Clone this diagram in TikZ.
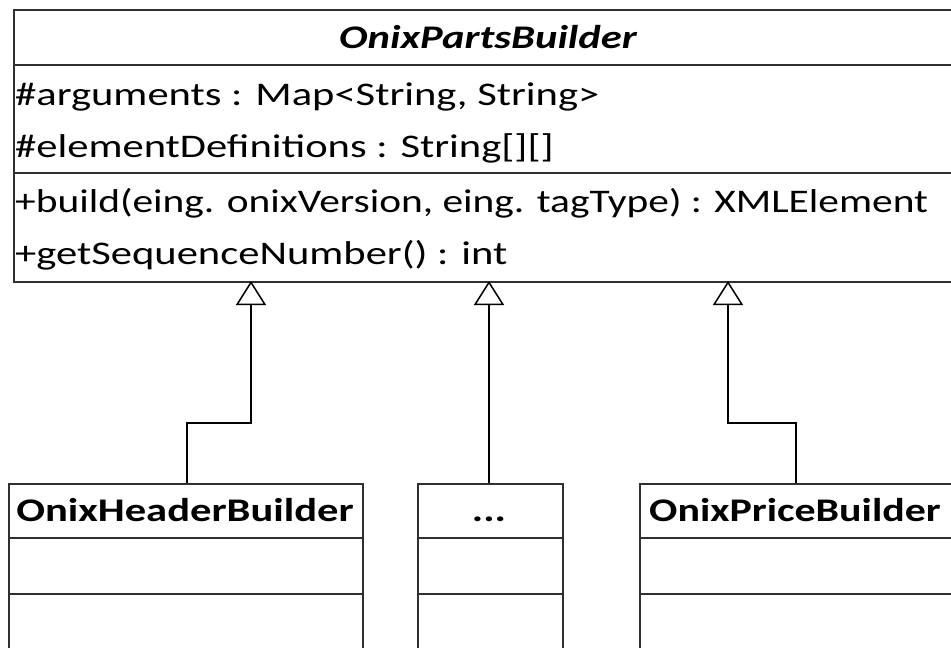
\documentclass[tikz,border=0pt]{standalone}
\usepackage{fontspec}
\setmainfont{Carlito}
\usetikzlibrary{arrows.meta}
\definecolor{boxc}{HTML}{303030}
\def\myhs{1.29}
\begin{document}
\begin{tikzpicture}[x=1pt,y=-1pt,
  box/.style={draw=boxc, line width=1.6pt, rectangle, inner sep=0pt, anchor=north west},
  sep/.style={draw=boxc, line width=1.6pt},
  txt/.style={anchor=base west, inner sep=0pt, font=\fontsize{33}{40}\selectfont},
  ttl/.style={anchor=base, inner sep=0pt, font=\fontsize{33}{40}\selectfont\bfseries},
  gen/.style={draw=black, line width=1.5pt, -{Triangle[open, width=30pt, length=24pt, fill=white]}}]
\useasboundingbox (0,0) rectangle (951,648);
\clip (0,0) rectangle (951,648);
% parent class
\node[box, minimum width=950pt, minimum height=272pt] (pb) at (13,9) {};
\draw[sep] (13,65) -- (963,65);
\draw[sep] (13,173) -- (963,173);
\node[ttl, font=\fontsize{33}{40}\selectfont\bfseries\itshape] (pbt) at (488,48) {\scalebox{\myhs}[1]{OnixPartsBuilder}};
\node[txt] (a1) at (15,105) {\scalebox{\myhs}[1]{\#arguments : Map<String, String>}};
\node[txt] (a2) at (15,157) {\scalebox{\myhs}[1]{\#elementDefinitions : String[][]}};
\node[txt] (o1) at (15,212) {\scalebox{1.255}[1]{+build(eing. onixVersion, eing. tagType) : XMLElement}};
\node[txt] (o2) at (15,264) {\scalebox{\myhs}[1]{+getSequenceNumber() : int}};
% child classes
\node[box, minimum width=354pt, minimum height=180pt] (c1) at (8,483) {};
\draw[sep] (8,538) -- (362,538);
\draw[sep] (8,594) -- (362,594);
\node[ttl] (c1t) at (185,521) {\scalebox{\myhs}[1]{OnixHeaderBuilder}};
\node[box, minimum width=145pt, minimum height=180pt] (c2) at (417,483) {};
\draw[sep] (417,538) -- (562,538);
\draw[sep] (417,594) -- (562,594);
\node[ttl] (c2t) at (489,521) {\scalebox{\myhs}[1]{...}};
\node[box, minimum width=320pt, minimum height=180pt] (c3) at (639,483) {};
\draw[sep] (639,538) -- (959,538);
\draw[sep] (639,594) -- (959,594);
\node[ttl] (c3t) at (795,521) {\scalebox{1.27}[1]{OnixPriceBuilder}};
% connectors
\coordinate (p1) at (251,281);
\coordinate (p2) at (489,281);
\coordinate (p3) at (728,281);
\coordinate (e1) at (187,423);
\coordinate (e3) at (796,423);
\draw[gen] (e1 |- c1.north) -- (e1) -| (p1);
\draw[gen] (p2 |- c2.north) -- (p2);
\draw[gen] (e3 |- c3.north) -- (e3) -| (p3);
\end{tikzpicture}
\end{document}
